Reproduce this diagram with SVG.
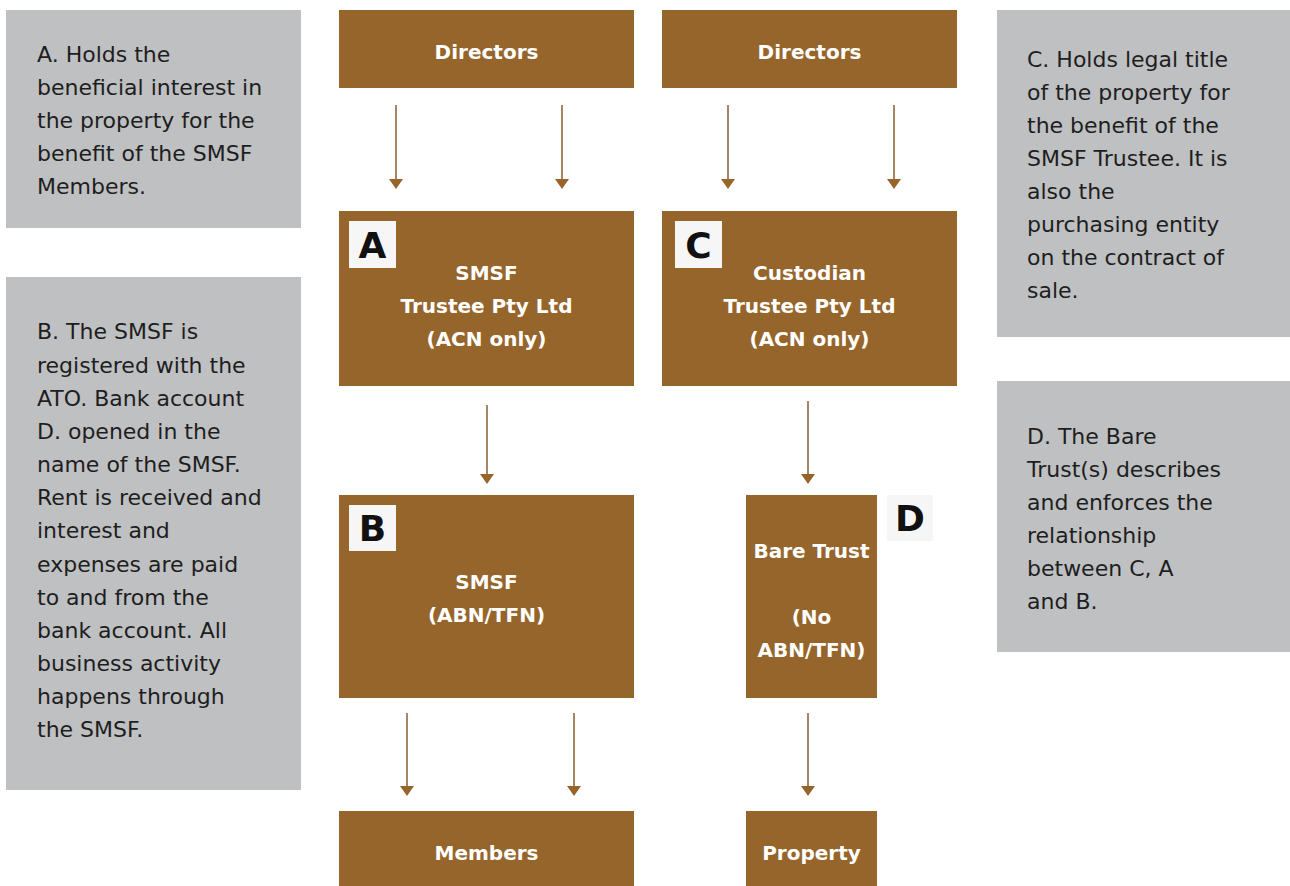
<svg xmlns="http://www.w3.org/2000/svg" width="1290" height="886" viewBox="0 0 1290 886">
<defs>
<style>
.note{fill:#bfc0c2}
.box{fill:#96652b}
.nt{font-family:"DejaVu Sans","Open Sans",sans-serif;font-size:22px;fill:#1e1e1e}
.bt{font-family:"DejaVu Sans","Open Sans",sans-serif;font-size:20px;font-weight:600;fill:#ffffff;text-anchor:middle}
.tag{fill:#f6f6f6}
.tt{font-family:"DejaVu Sans","Open Sans",sans-serif;font-size:36px;font-weight:600;fill:#111;text-anchor:middle}
.ln{stroke:#8d6a3f;stroke-width:1.6;fill:none}
.hd{fill:#97652a}
</style>
</defs>
<rect width="1290" height="886" fill="#ffffff"/>

<g id="noteA">
<rect class="note" x="6" y="10" width="295" height="218"/>
<text class="nt" x="37" y="62">A. Holds  the</text>
<text class="nt" x="37" y="95">beneficial interest in</text>
<text class="nt" x="37" y="128">the property for the</text>
<text class="nt" x="37" y="161">benefit of the SMSF</text>
<text class="nt" x="37" y="194">Members.</text>
</g>

<g id="noteB">
<rect class="note" x="6" y="277" width="295" height="513"/>
<text class="nt" x="37" y="339">B. The SMSF is</text>
<text class="nt" x="37" y="373">registered with the</text>
<text class="nt" x="37" y="406">ATO. Bank account</text>
<text class="nt" x="37" y="439">D. opened in the</text>
<text class="nt" x="37" y="472">name of the SMSF.</text>
<text class="nt" x="37" y="505">Rent is received and</text>
<text class="nt" x="37" y="538">interest and</text>
<text class="nt" x="37" y="572">expenses are paid</text>
<text class="nt" x="37" y="605">to and from the</text>
<text class="nt" x="37" y="638">bank account. All</text>
<text class="nt" x="37" y="671">business activity</text>
<text class="nt" x="37" y="704">happens through</text>
<text class="nt" x="37" y="737">the SMSF.</text>
</g>

<g id="noteC">
<rect class="note" x="997" y="10" width="293" height="327"/>
<text class="nt" x="1027" y="67">C. Holds legal title</text>
<text class="nt" x="1027" y="100">of the property for</text>
<text class="nt" x="1027" y="133">the benefit of the</text>
<text class="nt" x="1027" y="166">SMSF Trustee. It is</text>
<text class="nt" x="1027" y="199">also the</text>
<text class="nt" x="1027" y="232">purchasing entity</text>
<text class="nt" x="1027" y="265">on the contract of</text>
<text class="nt" x="1027" y="298">sale.</text>
</g>

<g id="noteD">
<rect class="note" x="997" y="381" width="293" height="271"/>
<text class="nt" x="1027" y="444">D. The Bare</text>
<text class="nt" x="1027" y="477">Trust(s) describes</text>
<text class="nt" x="1027" y="510">and enforces the</text>
<text class="nt" x="1027" y="543">relationship</text>
<text class="nt" x="1027" y="576">between C, A</text>
<text class="nt" x="1027" y="609">and B.</text>
</g>

<g id="directors1">
<rect class="box" x="339" y="10" width="295" height="78"/>
<text class="bt" x="486.5" y="59">Directors</text>
</g>
<g id="directors2">
<rect class="box" x="662" y="10" width="295" height="78"/>
<text class="bt" x="809.5" y="59">Directors</text>
</g>

<g id="smsfTrustee">
<rect class="box" x="339" y="211" width="295" height="175"/>
<rect class="tag" x="349" y="221" width="47" height="47"/>
<text class="tt" x="372.5" y="258">A</text>
<text class="bt" x="486.5" y="280">SMSF</text>
<text class="bt" x="486.5" y="313">Trustee Pty Ltd</text>
<text class="bt" x="486.5" y="346">(ACN only)</text>
</g>

<g id="custodian">
<rect class="box" x="662" y="211" width="295" height="175"/>
<rect class="tag" x="675" y="221" width="47" height="47"/>
<text class="tt" x="698.5" y="258">C</text>
<text class="bt" x="809.5" y="280">Custodian</text>
<text class="bt" x="809.5" y="313">Trustee Pty Ltd</text>
<text class="bt" x="809.5" y="346">(ACN only)</text>
</g>

<g id="smsf">
<rect class="box" x="339" y="495" width="295" height="203"/>
<rect class="tag" x="349" y="505" width="47" height="46"/>
<text class="tt" x="372.5" y="541">B</text>
<text class="bt" x="486.5" y="589">SMSF</text>
<text class="bt" x="486.5" y="622">(ABN/TFN)</text>
</g>

<g id="bareTrust">
<rect class="box" x="746" y="495" width="131" height="203"/>
<text class="bt" x="811.5" y="558">Bare Trust</text>
<text class="bt" x="811.5" y="624">(No</text>
<text class="bt" x="811.5" y="657">ABN/TFN)</text>
</g>

<g id="tagD">
<rect class="tag" x="887" y="495" width="46" height="46"/>
<text class="tt" x="910" y="531">D</text>
</g>

<g id="members">
<rect class="box" x="339" y="811" width="295" height="75"/>
<text class="bt" x="486.5" y="860">Members</text>
</g>

<g id="property">
<rect class="box" x="746" y="811" width="131" height="75"/>
<text class="bt" x="811.5" y="860">Property</text>
</g>

<g id="connectors">
<path class="ln" d="M396 105V180M562 105V180M728 105V180M894 105V180"/>
<path class="hd" d="M389 179h14l-7 10zM555 179h14l-7 10zM721 179h14l-7 10zM887 179h14l-7 10z"/>
<path class="ln" d="M487 405V475M808 401V475"/>
<path class="hd" d="M480 474h14l-7 10zM801 474h14l-7 10z"/>
<path class="ln" d="M407 713V787M574 713V787M808 713V787"/>
<path class="hd" d="M400 786h14l-7 10zM567 786h14l-7 10zM801 786h14l-7 10z"/>
</g>
</svg>
